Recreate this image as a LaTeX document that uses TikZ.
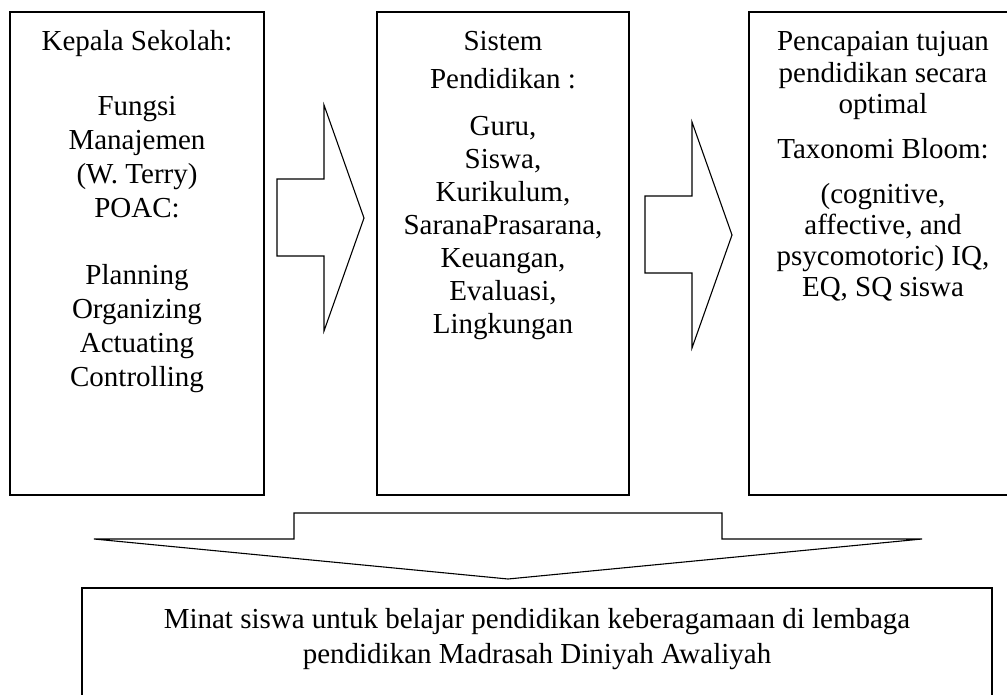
\documentclass[tikz,border=0pt]{standalone}
\usepackage{fontspec}
\setmainfont{Liberation Serif}
\begin{document}
\begin{tikzpicture}[x=1pt,y=-1pt,line width=1.1pt,line join=miter,
  panel/.style={draw=black,rectangle,inner sep=0pt},
  txt/.style={inner sep=0pt,anchor=base,font=\fontsize{29}{34}\selectfont},
  bigarrow/.style={draw=black,fill=white}]
\useasboundingbox (0,0) rectangle (1007,694);
\clip (0,0) rectangle (1007,694);
% boxes
\node[panel,minimum width=254pt,minimum height=483pt] (kepala) at (137,253.5) {};
\node[panel,minimum width=252pt,minimum height=483pt] (sistem) at (503,253.5) {};
\node[panel,minimum width=268pt,minimum height=483pt] (tujuan) at (883,253.5) {};
\node[panel,minimum width=910pt,minimum height=132pt] (minat) at (537,654) {};
% texts
\node[txt] (kepalatxt) at (137,50) {\parbox[t]{250pt}{\centering\fontsize{29}{34}\selectfont
  Kepala Sekolah:\\[31pt]
  Fungsi\\ Manajemen\\ (W. Terry)\\ POAC:\\[33pt]
  Planning\\ Organizing\\ Actuating\\ Controlling}};
\node[txt] (sistemtxt) at (503,50) {\parbox[t]{250pt}{\centering\fontsize{29}{33}\selectfont
  Sistem\\[5pt]
  Pendidikan :\\[14pt]
  Guru,\\ Siswa,\\ Kurikulum,\\ SaranaPrasarana,\\ Keuangan,\\ Evaluasi,\\ Lingkungan}};
\node[txt] (tujuantxt) at (883,50) {\parbox[t]{260pt}{\centering\fontsize{29}{31}\selectfont
  Pencapaian tujuan\\[1pt]
  pendidikan secara\\ optimal\\[14pt]
  Taxonomi Bloom:\\[14pt]
  (cognitive,\\ affective, and\\ psycomotoric) IQ,\\ EQ, SQ siswa}};
\node[txt] (minattxt) at (537,628) {\parbox[t]{900pt}{\centering\fontsize{29}{35}\selectfont
  Minat siswa untuk belajar pendidikan keberagamaan di lembaga\\
  pendidikan Madrasah Diniyah Awaliyah}};
% block arrows
\coordinate (a1tip) at (364,218);
\coordinate (a2tip) at (732,235);
\coordinate (a3tip) at (508,579);
\draw[bigarrow] (277,179) -- (324,179) -- (324,105) -- (a1tip) -- (324,331) -- (324,256) -- (277,256) -- cycle;
\draw[bigarrow] (645,196) -- (692,196) -- (692,122) -- (a2tip) -- (692,348) -- (692,273) -- (645,273) -- cycle;
\draw[bigarrow] (294,513) -- (722,513) -- (722,539) -- (922,539) -- (a3tip) -- (94,539) -- (294,539) -- cycle;
\end{tikzpicture}
\end{document}
